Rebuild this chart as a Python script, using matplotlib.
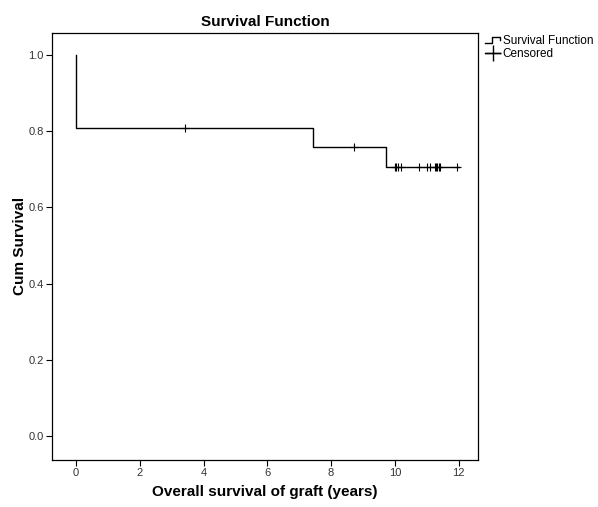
import numpy as np
import matplotlib.pyplot as plt
from matplotlib.lines import Line2D
from matplotlib.legend_handler import HandlerBase

plt.rcParams['font.family'] = ['Liberation Sans', 'DejaVu Sans']

# Kaplan-Meier estimate (step points) and censored cases
step_times = [0.0, 0.0, 7.44, 9.72, 12.0]
step_surv = [1.0, 0.8095, 0.7589, 0.7047, 0.7047]
cens_times = [3.42, 8.73, 10.0, 10.05, 10.1, 10.2, 10.75, 11.0, 11.1,
              11.25, 11.3, 11.33, 11.37, 11.4, 11.95]
cens_surv = [0.8095, 0.7589] + [0.7047] * 13

xticks = [0, 2, 4, 6, 8, 10, 12]
yticks = [0.0, 0.2, 0.4, 0.6, 0.8, 1.0]


class StepHandler(HandlerBase):
    # small step shape for the legend entry
    def create_artists(self, legend, orig, xd, yd, w, h, fontsize, trans):
        xs = [xd, xd + w * 0.45, xd + w * 0.45, xd + w, xd + w]
        ys = [yd + h * 0.1, yd + h * 0.1, yd + h * 0.9, yd + h * 0.9, yd + h * 0.55]
        ln = Line2D(xs, ys, color='black', lw=1.0, transform=trans)
        return [ln]


fig = plt.figure(figsize=(5.98, 5.07), dpi=100)
ax = fig.add_axes([0.087, 0.093, 0.712, 0.842])

ax.step(step_times, step_surv, where='post', color='black', lw=1.0)
ax.plot(cens_times, cens_surv, ls='none', marker='+', color='black',
        markersize=6, markeredgewidth=0.8)

ax.set_xlim(-0.75, 12.6)
ax.set_ylim(-0.063, 1.058)
ax.set_xticks(xticks)
ax.set_yticks(yticks)
ax.set_yticklabels(['%.1f' % v for v in yticks])
ax.tick_params(labelsize=8, labelcolor='#333333', length=4, width=0.8, pad=2)
for s in ax.spines.values():
    s.set_linewidth(0.9)

ax.set_title('Survival Function', fontsize=11, fontweight='bold', pad=5)
ax.set_xlabel('Overall survival of graft (years)', fontsize=11, fontweight='bold', labelpad=5)
ax.set_ylabel('Cum Survival', fontsize=11, fontweight='bold', labelpad=1)

h_surv = Line2D([], [], color='black')
h_cens = Line2D([], [], color='black', marker='+', markersize=12, lw=1.0)
fig.legend([h_surv, h_cens], ['Survival Function', 'Censored'],
           handler_map={h_surv: StepHandler()},
           loc='upper left', bbox_to_anchor=(0.803, 0.94), frameon=False,
           fontsize=8.5, handlelength=1.3, handletextpad=0.2,
           labelspacing=0.1, borderaxespad=0)

fig.savefig('out.png', dpi=100)
